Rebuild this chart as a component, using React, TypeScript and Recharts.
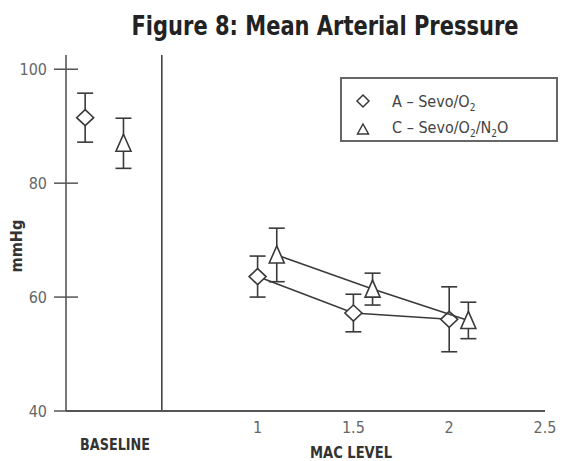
import React from "react";
import {
  ComposedChart,
  Scatter,
  XAxis,
  YAxis,
  ErrorBar,
  ReferenceLine,
} from "recharts";

const NARROW = '"Liberation Sans Narrow", "Arial Narrow", "DejaVu Sans Condensed", sans-serif';
const INK = "#3a3a3a";

// MAC level groups
const macLevelsA = [1, 1.5, 2];
const mapA = [63.6, 57.2, 56.1];
const errA = [3.6, 3.3, 5.7];

const macLevelsC = [1.1, 1.6, 2.1];
const mapC = [67.4, 61.4, 55.9];
const errC = [4.7, 2.8, 3.2];

// baseline points (A, C)
const baselineX = [0.1, 0.3];
const baselineMap = [91.5, 87.0];
const baselineErr = [4.3, 4.4];

const yTicks = [40, 60, 80, 100];
const xTicks = [1, 1.5, 2, 2.5];

const seriesA = macLevelsA.map((x, i) => ({ x, y: mapA[i], err: errA[i] }));
const seriesC = macLevelsC.map((x, i) => ({ x, y: mapC[i], err: errC[i] }));
const baseA = [{ x: baselineX[0], y: baselineMap[0], err: baselineErr[0] }];
const baseC = [{ x: baselineX[1], y: baselineMap[1], err: baselineErr[1] }];

function Diamond(props: any) {
  const { cx, cy } = props;
  if (cx == null || cy == null) return null;
  const w = 8.5;
  const h = 8;
  return (
    <path
      d={`M${cx},${cy - h} L${cx + w},${cy} L${cx},${cy + h} L${cx - w},${cy} Z`}
      fill="#fff"
      stroke={INK}
      strokeWidth={1.6}
    />
  );
}

function Triangle(props: any) {
  const { cx, cy } = props;
  if (cx == null || cy == null) return null;
  return (
    <path
      d={`M${cx},${cy - 9} L${cx + 7.5},${cy + 8} L${cx - 7.5},${cy + 8} Z`}
      fill="#fff"
      stroke={INK}
      strokeWidth={1.6}
    />
  );
}

function YTick(props: any) {
  const { x, y, payload } = props;
  return (
    <g>
      <line x1={x - 12} x2={x + 12} y1={y} y2={y} stroke="#555" strokeWidth={1.5} />
      <text
        x={x - 19}
        y={y}
        dy={6}
        textAnchor="end"
        fontSize={16}
        fill="#666"
        fontFamily={NARROW}
      >
        {payload.value}
      </text>
    </g>
  );
}

function XTick(props: any) {
  const { x, y, payload } = props;
  return (
    <text
      x={x}
      y={y}
      dy={22}
      textAnchor="middle"
      fontSize={16}
      fill="#666"
      fontFamily={NARROW}
    >
      {payload.value}
    </text>
  );
}

function LegendBox() {
  const sub = { fontSize: 10, verticalAlign: "-4px" as const };
  const row = {
    position: "absolute" as const,
    left: 50,
    fontSize: 16,
    lineHeight: "16px",
    color: "#444",
    fontFamily: NARROW,
    whiteSpace: "nowrap" as const,
  };
  return (
    <div
      style={{
        position: "absolute",
        left: 340,
        top: 77,
        width: 218,
        height: 65,
        border: "2px solid #666",
        boxSizing: "border-box",
        background: "#fff",
      }}
    >
      <svg width={40} height={65} style={{ position: "absolute", left: 0, top: -2 }}>
        <path d="M21,18 L27,24 L21,30 L15,24 Z" fill="#fff" stroke={INK} strokeWidth={1.5} />
        <path d="M21,47 L26.5,57 L15.5,57 Z" fill="#fff" stroke={INK} strokeWidth={1.5} />
      </svg>
      <div style={{ ...row, top: 15 }}>
        A – Sevo/O<span style={sub}>2</span>
      </div>
      <div style={{ ...row, top: 41 }}>
        C – Sevo/O<span style={sub}>2</span>/N<span style={sub}>2</span>O
      </div>
    </div>
  );
}

export default function App() {
  return (
    <div
      style={{
        position: "absolute",
        left: 0,
        top: 0,
        width: 562,
        height: 461,
        background: "#fff",
      }}
    >
      <ComposedChart
        width={562}
        height={461}
        margin={{ top: 55, right: 17, bottom: 20, left: 16 }}
      >
        <XAxis
          type="number"
          dataKey="x"
          domain={[0, 2.5]}
          ticks={xTicks}
          height={30}
          tickLine={false}
          tickSize={0}
          tickMargin={0}
          axisLine={{ stroke: "#555", strokeWidth: 2 }}
          tick={<XTick />}
          allowDataOverflow
        />
        <YAxis
          type="number"
          dataKey="y"
          domain={[40, 102.5]}
          ticks={yTicks}
          width={50}
          tickLine={false}
          tickSize={0}
          tickMargin={0}
          axisLine={{ stroke: "#555", strokeWidth: 1.6 }}
          tick={<YTick />}
          allowDataOverflow
        />
        <ReferenceLine x={0.5} stroke="#444" strokeWidth={1.6} />
        <Scatter
          name="A – Sevo/O2"
          data={seriesA}
          line={{ stroke: INK, strokeWidth: 1.6 }}
          shape={<Diamond />}
          isAnimationActive={false}
        >
          <ErrorBar dataKey="err" direction="y" width={8} stroke={INK} strokeWidth={1.6} />
        </Scatter>
        <Scatter
          name="C – Sevo/O2/N2O"
          data={seriesC}
          line={{ stroke: INK, strokeWidth: 1.6 }}
          shape={<Triangle />}
          isAnimationActive={false}
        >
          <ErrorBar dataKey="err" direction="y" width={8} stroke={INK} strokeWidth={1.6} />
        </Scatter>
        <Scatter
          name="A baseline"
          data={baseA}
          shape={<Diamond />}
          isAnimationActive={false}
        >
          <ErrorBar dataKey="err" direction="y" width={8} stroke={INK} strokeWidth={1.6} />
        </Scatter>
        <Scatter
          name="C baseline"
          data={baseC}
          shape={<Triangle />}
          isAnimationActive={false}
        >
          <ErrorBar dataKey="err" direction="y" width={8} stroke={INK} strokeWidth={1.6} />
        </Scatter>
      </ComposedChart>
      <LegendBox />
      <svg
        width={562}
        height={461}
        style={{ position: "absolute", left: 0, top: 0, pointerEvents: "none" }}
      >
        <text
          x={325}
          y={35}
          textAnchor="middle"
          fontSize={26}
          fontWeight="bold"
          fill="#222"
          fontFamily={NARROW}
          textLength={387}
          lengthAdjust="spacingAndGlyphs"
        >
          Figure 8: Mean Arterial Pressure
        </text>
        <text
          x={115}
          y={450}
          textAnchor="middle"
          fontSize={16}
          fontWeight="bold"
          fill="#333"
          fontFamily={NARROW}
          textLength={70}
          lengthAdjust="spacingAndGlyphs"
        >
          BASELINE
        </text>
        <text
          x={351}
          y={458}
          textAnchor="middle"
          fontSize={16}
          fontWeight="bold"
          fill="#333"
          fontFamily={NARROW}
          textLength={82}
          lengthAdjust="spacingAndGlyphs"
        >
          MAC LEVEL
        </text>
        <text
          x={22}
          y={246}
          transform="rotate(-90 22 246)"
          textAnchor="middle"
          fontSize={15}
          fontWeight="bold"
          fill="#333"
          fontFamily={NARROW}
          textLength={53}
          lengthAdjust="spacingAndGlyphs"
        >
          mmHg
        </text>
      </svg>
    </div>
  );
}
